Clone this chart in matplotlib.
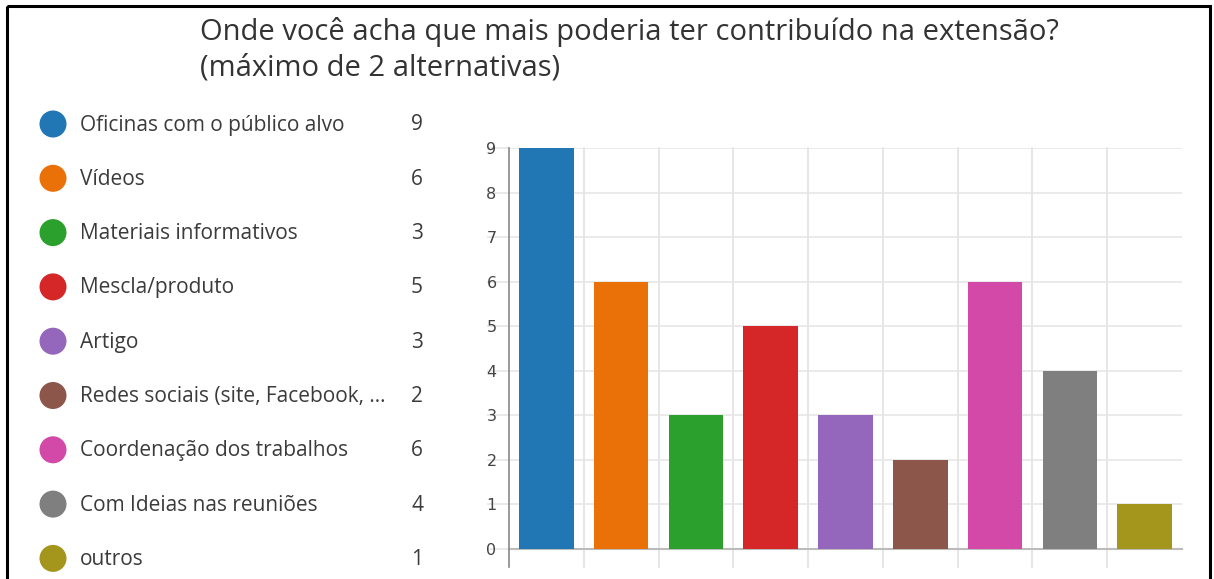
import matplotlib.pyplot as plt
from matplotlib.patches import Circle, Rectangle

# === Data ===
categories = [
    'Oficinas com o público alvo',
    'Vídeos',
    'Materiais informativos',
    'Mescla/produto',
    'Artigo',
    'Redes sociais (site, Facebook, ...',
    'Coordenação dos trabalhos',
    'Com Ideias nas reuniões',
    'outros',
]
counts = [9, 6, 3, 5, 3, 2, 6, 4, 1]
colors = ['#2077b4', '#e97108', '#2ca02c', '#d62728', '#9467bd',
          '#8c564b', '#d349a7', '#7f7f7f', '#a4951d']
title = 'Onde você acha que mais poderia ter contribuído na extensão?\n(máximo de 2 alternativas)'

W, H = 1214, 579
fig = plt.figure(figsize=(W / 100, H / 100), dpi=100)
fig.patch.set_facecolor('white')

# overlay in pixel coords for border, title, legend
ov = fig.add_axes([0, 0, 1, 1])
ov.set_xlim(0, W)
ov.set_ylim(H, 0)
ov.axis('off')
ov.add_patch(Rectangle((7, 6), 1203, 600, fill=False, edgecolor='black', linewidth=2.2))

ov.text(200, 50, title, fontsize=21, color='#333333', family='Open Sans',
        ha='left', va='center', linespacing=1.3)

txt_col = '#3b3b3b'
for i, (lab, n, c) in enumerate(zip(categories, counts, colors)):
    y = 124 + i * 54.3
    ov.add_patch(Circle((53, y), 13.5, facecolor=c, edgecolor='none'))
    ov.text(80, y + 1, lab, fontsize=15, color=txt_col, family='Open Sans',
            ha='left', va='center')
    ov.text(423, y + 1, str(n), fontsize=15, color=txt_col, family='Open Sans',
            ha='right', va='center')

# === Bar chart ===
ax = fig.add_axes([509 / W, 1 - 549 / H, (1182 - 509) / W, (549 - 148) / H])
x = [i + 0.5 for i in range(len(counts))]
ax.bar(x, counts, width=0.73, color=colors, zorder=3)
ax.set_xlim(0, len(counts))
ax.set_ylim(0, 9)
ax.set_yticks(range(0, 10))
ax.set_xticks([])
ax.grid(axis='y', color='#e6e6e6', linewidth=1.2, zorder=0)
for b in range(1, len(counts)):
    ax.plot([b, b], [-0.4, 9], color='#e2e2e2', linewidth=1.2, zorder=0, clip_on=False)
ax.plot([0, 0], [-0.4, 9], color='#888888', linewidth=1.2, zorder=4, clip_on=False)
for s in ['top', 'right', 'left']:
    ax.spines[s].set_visible(False)
ax.spines['bottom'].set_color('#bbbbbb')
ax.spines['bottom'].set_linewidth(1.5)
ax.tick_params(axis='y', length=16, color='#e6e6e6', width=1.2, labelsize=11.5,
               labelcolor='#444444', pad=-7)

fig.savefig('out.png', dpi=100, facecolor='white')
